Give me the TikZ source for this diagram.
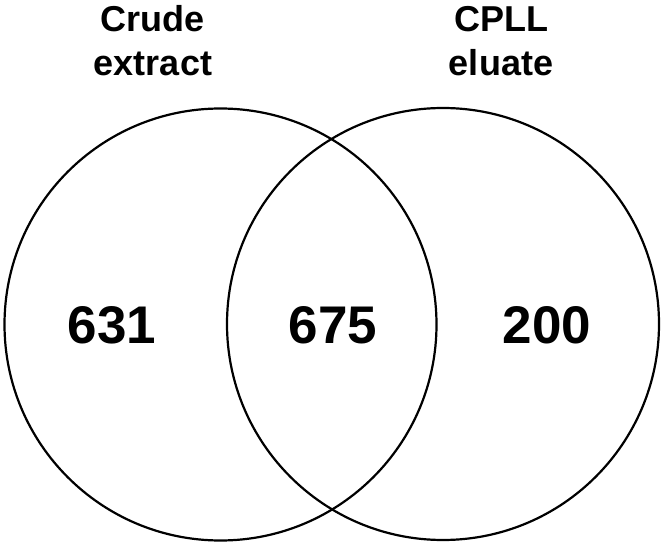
\documentclass[tikz,border=0pt]{standalone}
\usepackage{fontspec}
\setmainfont{Liberation Sans}
\usepackage{tikz}
\usetikzlibrary{positioning}
\tikzset{
  setcircle/.style={draw, circle, line width=2.2pt, minimum size=432pt, inner sep=0pt},
  setlabel/.style={font=\fontsize{36}{44}\selectfont\bfseries, align=center, anchor=base, inner sep=0pt},
  count/.style={font=\fontsize{53}{60}\selectfont\bfseries, anchor=base, inner sep=0pt}
}
\begin{document}
\begin{tikzpicture}[x=1pt, y=1pt]
\useasboundingbox (0,0) rectangle (664,-545);

% The two sets
\node[setcircle] (crude) at (220.5,-324.5) {};
\node[setcircle] (cpll) at (443,-324) {};

% Set names above the circles (base = last line)
\node[setlabel] (crudename) at (153,-76) {Crude\\extract};
\node[setlabel] (cpllname) at (501,-76) {CPLL\\eluate};

% Counts in each region
\node[count] (onlycrude) at (112,-344) {631};
\node[count] (both) at (333,-344) {675};
\node[count] (onlycpll) at (547,-344) {200};

\end{tikzpicture}
\end{document}
